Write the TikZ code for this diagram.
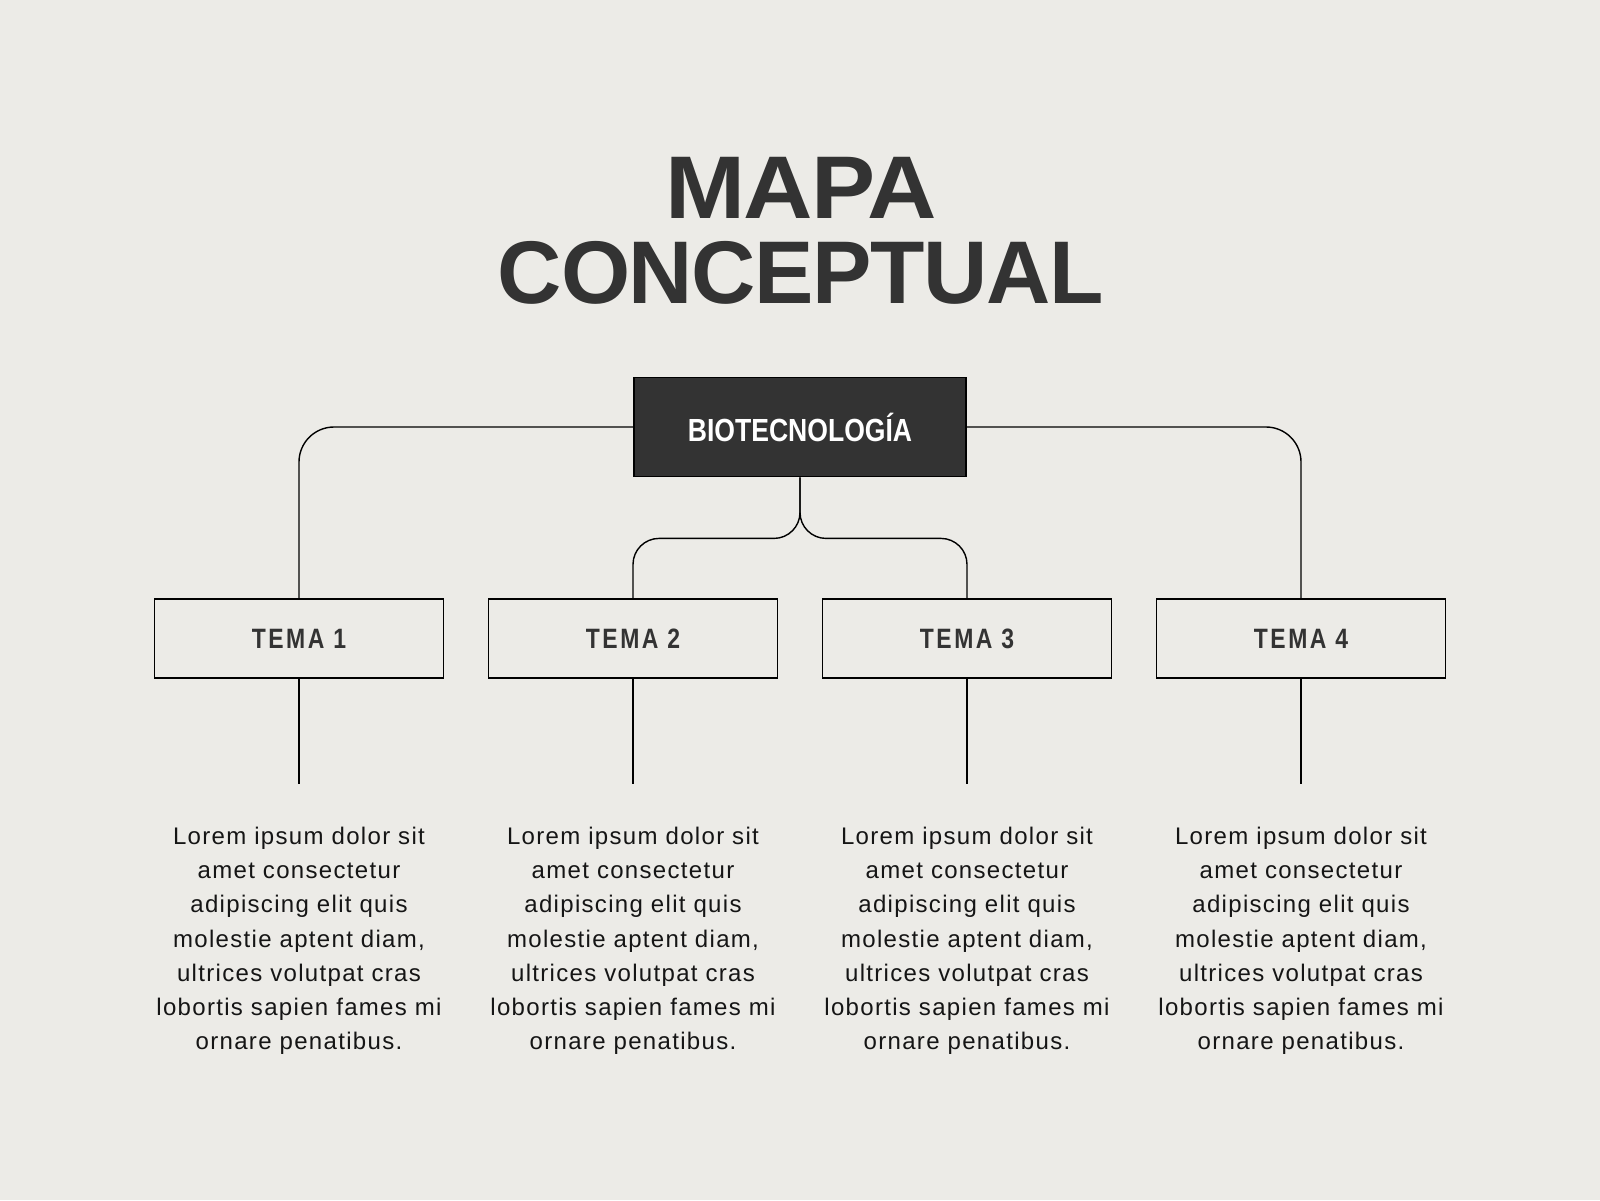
\documentclass[tikz,border=0pt]{standalone}
\usepackage{fontspec}
\usepackage{graphicx}
\usetikzlibrary{positioning}
\setmainfont{Liberation Sans}
\newfontfamily\titlefont{Liberation Sans}[LetterSpace=-1.5]
\newfontfamily\temafont{Liberation Sans}[LetterSpace=11]
\newfontfamily\bodyfont{Liberation Sans}[LetterSpace=5.5]
\definecolor{paper}{HTML}{ECEBE7}
\definecolor{ink}{HTML}{333333}
\definecolor{textink}{HTML}{151515}

\begin{document}
\begin{tikzpicture}[
    x=0.5pt, y=-0.5pt,
    % Box styles
    mainbox/.style={draw=black, line width=0.9pt, fill=ink, text=white,
        minimum width=166pt, minimum height=49.5pt, inner sep=0pt,
        font=\bfseries\fontsize{16pt}{16pt}\selectfont},
    temabox/.style={draw=black, line width=0.7pt, fill=paper, text=ink,
        minimum width=144.5pt, minimum height=39.5pt, inner sep=0pt,
        font=\temafont\bfseries\fontsize{14pt}{14pt}\selectfont},
    bodytext/.style={text=textink, align=center, inner sep=0pt,
        font=\bodyfont\fontsize{12pt}{17.1pt}\selectfont},
    link/.style={draw=black, line width=0.7pt}
]

% Background and page size
\fill[paper] (0,0) rectangle (1600,1200);
\useasboundingbox (0,0) rectangle (1600,1200);

% Title at top
\node[text=ink, align=center, inner sep=0pt, anchor=north,
      font=\titlefont\bfseries\fontsize{44.5pt}{42.5pt}\selectfont]
      (title) at (801,157) {\scalebox{1.08}[1]{MAPA}\\CONCEPTUAL};

% Main concept
\node[mainbox] (bio) at (800,427) {\scalebox{0.83}[1]{BIOTECNOLOGÍA}};

% Topic boxes, stems and texts
\foreach \i in {1,...,4} {
    \pgfmathsetmacro{\xpos}{299+334*(\i-1)}
    \node[temabox] (tema\i) at (\xpos,638.5) {\scalebox{0.82}[1]{TEMA \i}};
    \coordinate (stem\i) at ([yshift=-52.5pt]tema\i.south);
    \draw[link] (tema\i.south) -- (stem\i);
    \node[bodytext, below=74pt of tema\i] (desc\i) {Lorem ipsum dolor sit\\
        amet consectetur\\adipiscing elit quis\\molestie aptent diam,\\
        ultrices volutpat cras\\lobortis sapien fames mi\\ornare penatibus.};
}

% Outer branches
\draw[link, rounded corners=17.5pt] (bio.west) -| (tema1.north);
\draw[link, rounded corners=17.5pt] (bio.east) -| (tema4.north);

% Inner branches
\coordinate (split) at ([yshift=-30.5pt]bio.south);
\draw[link, rounded corners=13pt] (bio.south) -- (split) -| (tema2.north);
\draw[link, rounded corners=13pt] (bio.south) -- (split) -| (tema3.north);

\end{tikzpicture}
\end{document}
